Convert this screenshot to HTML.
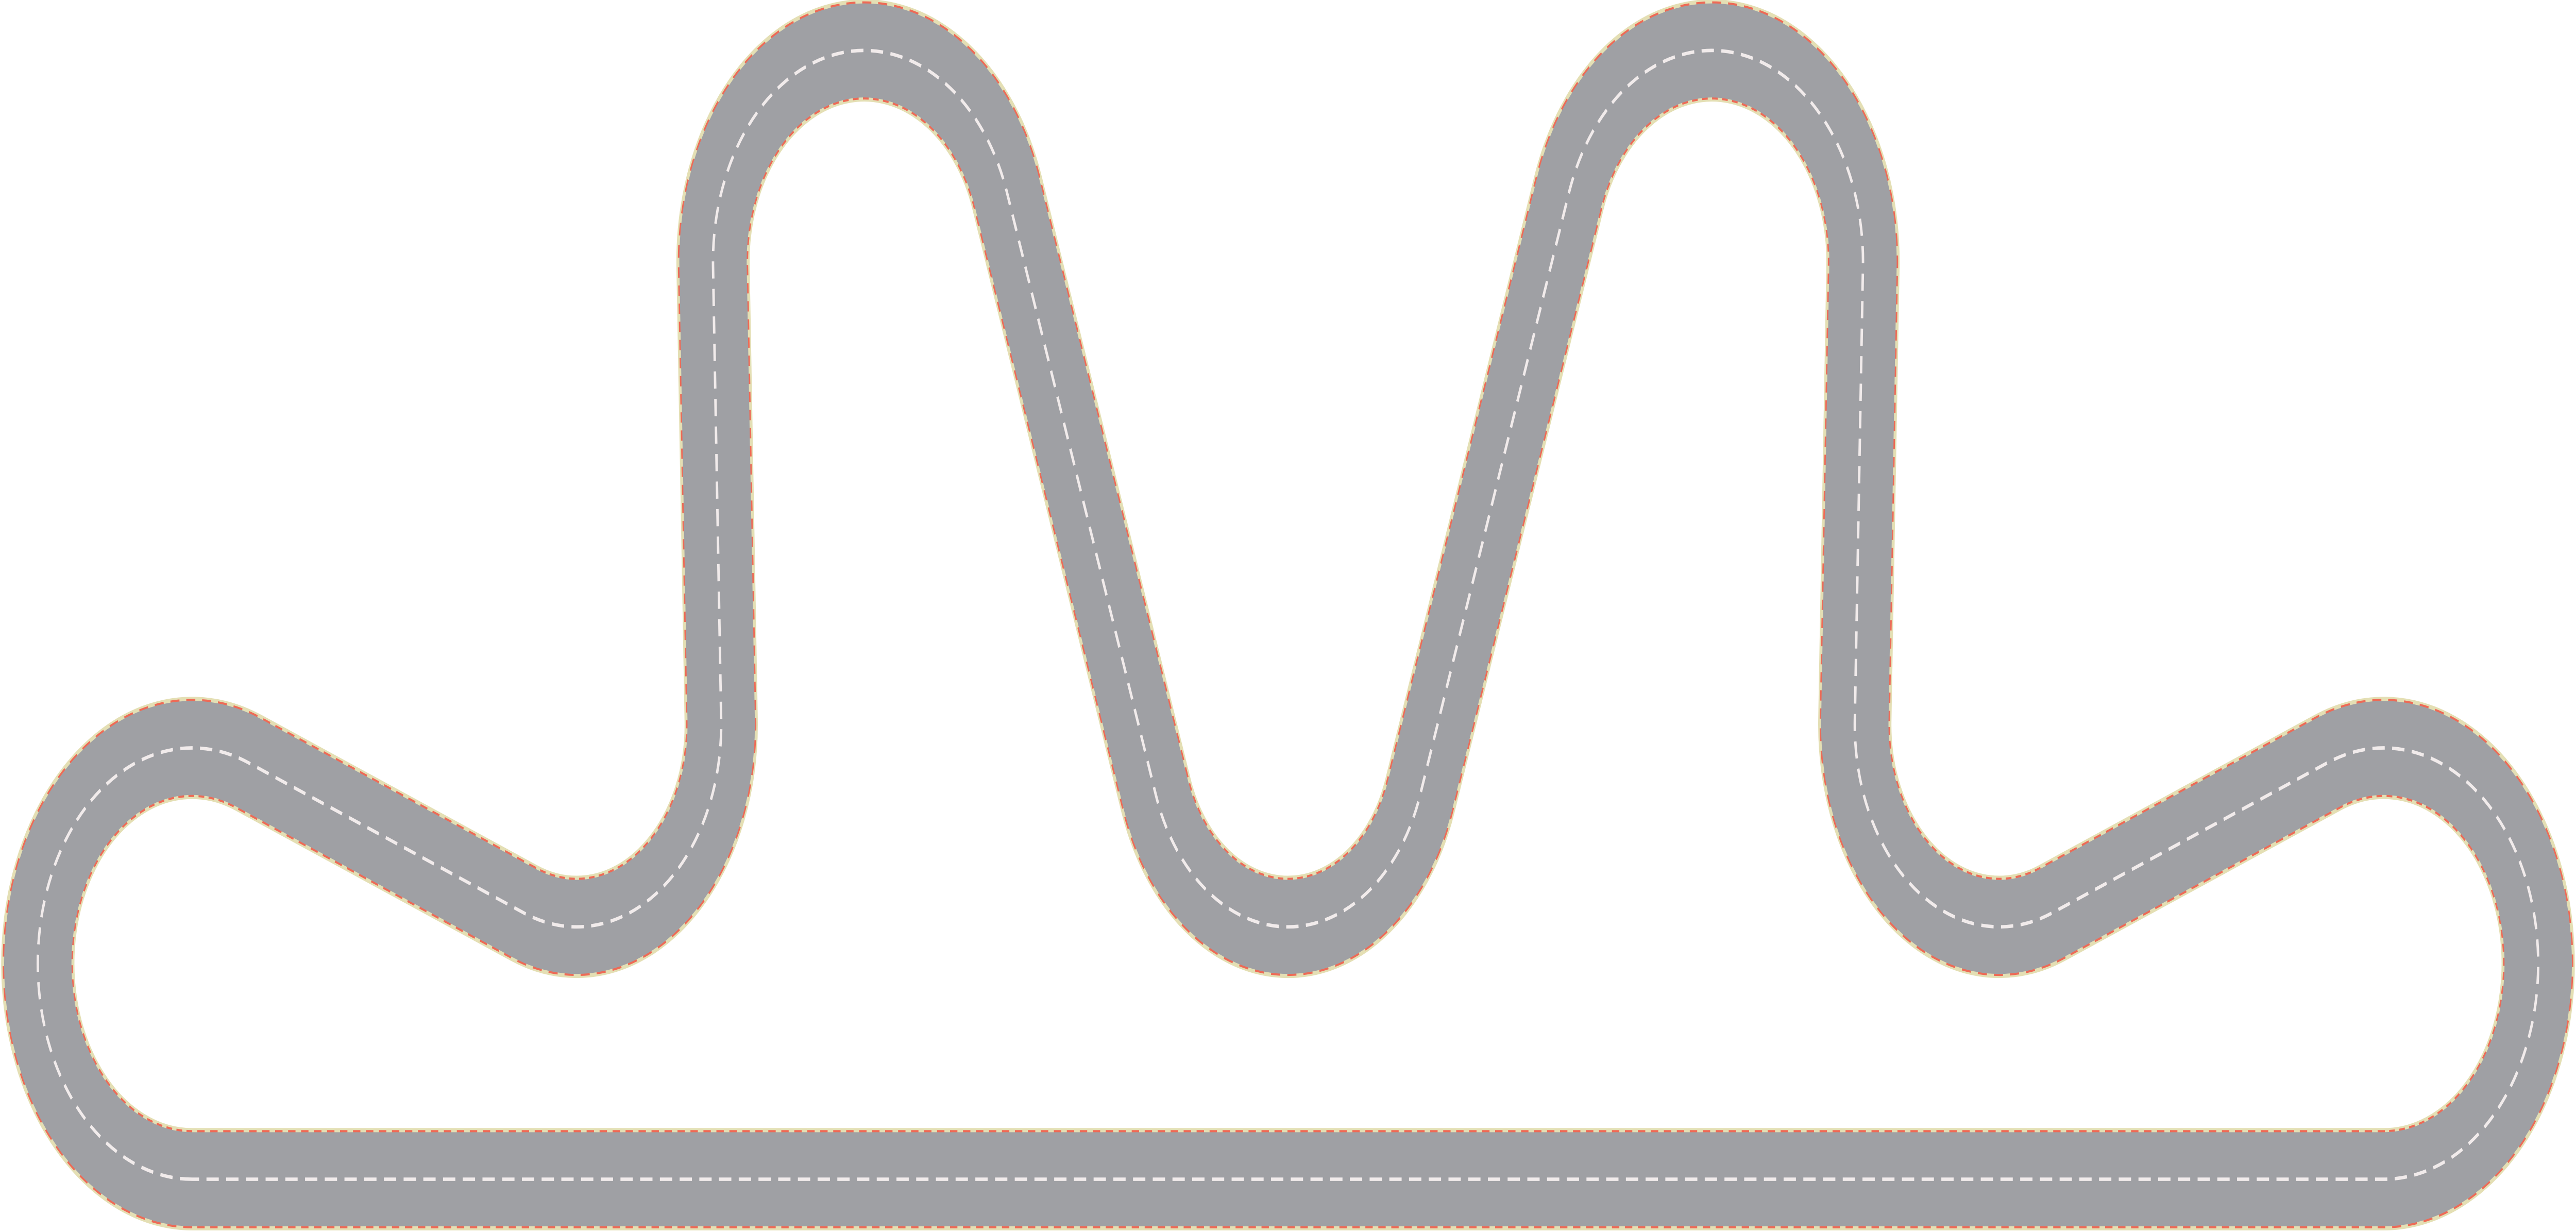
<!DOCTYPE html>
<html><head><meta charset="utf-8"><title>Race track</title>
<style>
html,body{margin:0;padding:0;background:#fff;width:100%;height:100%;overflow:hidden;}
svg{display:block;position:fixed;left:0;top:0;width:100vw;height:100vh;}
</style></head>
<body>
<svg id="track" xmlns="http://www.w3.org/2000/svg" viewBox="0 0 1568 537" preserveAspectRatio="none">
<path id="edgeY" fill="none" stroke="#e4dfb4" stroke-width="44.6" stroke-linejoin="round"/>
<path id="edgeR" fill="none" stroke="#ee6a56" stroke-width="42.8" stroke-dasharray="4.5 3.4"/>
<path id="road" fill="none" stroke="#9fa0a4" stroke-width="41"/>
<path id="center" fill="none" stroke="#f1ebeb" stroke-width="1.5" stroke-dasharray="7.5 4.5"/>
</svg>
<script>
// turn centres (display units) and signed radii (+ clockwise, - counter-clockwise)
const cxs = [117, 351, 526, 784, 1042, 1217, 1451];
const cys = [420, 316, 114, 319, 114, 316, 420];
const ks  = [94, -88, 92, -85, 92, -88, 94];

function tangent(i, j) {
  const dx = cxs[j]-cxs[i], dy = cys[j]-cys[i];
  const L = Math.hypot(dx, dy);
  const th = Math.atan2(dy, dx) - Math.asin((ks[j]-ks[i])/L);
  const nx = -Math.sin(th), ny = Math.cos(th);
  return [[cxs[i]-ks[i]*nx, cys[i]-ks[i]*ny], [cxs[j]-ks[j]*nx, cys[j]-ks[j]*ny]];
}
const n = cxs.length;
const segs = [];
for (let i = 0; i < n; i++) segs.push(tangent(i, (i+1)%n));
let d = '';
for (let i = 0; i < n; i++) {
  const seg = segs[i];
  const prev = segs[(i-1+n)%n];
  const a1p = prev[1], a2p = seg[0];
  const r = Math.abs(ks[i]);
  const a1 = Math.atan2(a1p[1]-cys[i], a1p[0]-cxs[i]);
  const a2 = Math.atan2(a2p[1]-cys[i], a2p[0]-cxs[i]);
  const TP = Math.PI*2;
  let delta = ks[i] > 0 ? (a2-a1) : (a1-a2);
  delta = ((delta % TP) + TP) % TP;
  const sweep = ks[i] > 0 ? 1 : 0;
  const large = delta > Math.PI ? 1 : 0;
  if (i === 0) d += 'M' + a1p[0].toFixed(2) + ' ' + a1p[1].toFixed(2);
  d += ' A' + r + ' ' + r + ' 0 ' + large + ' ' + sweep + ' ' + a2p[0].toFixed(2) + ' ' + a2p[1].toFixed(2);
  d += ' L' + seg[1][0].toFixed(2) + ' ' + seg[1][1].toFixed(2);
}
d += ' Z';
['edgeY','edgeR','road','center'].forEach(id => document.getElementById(id).setAttribute('d', d));
</script>
</body></html>
